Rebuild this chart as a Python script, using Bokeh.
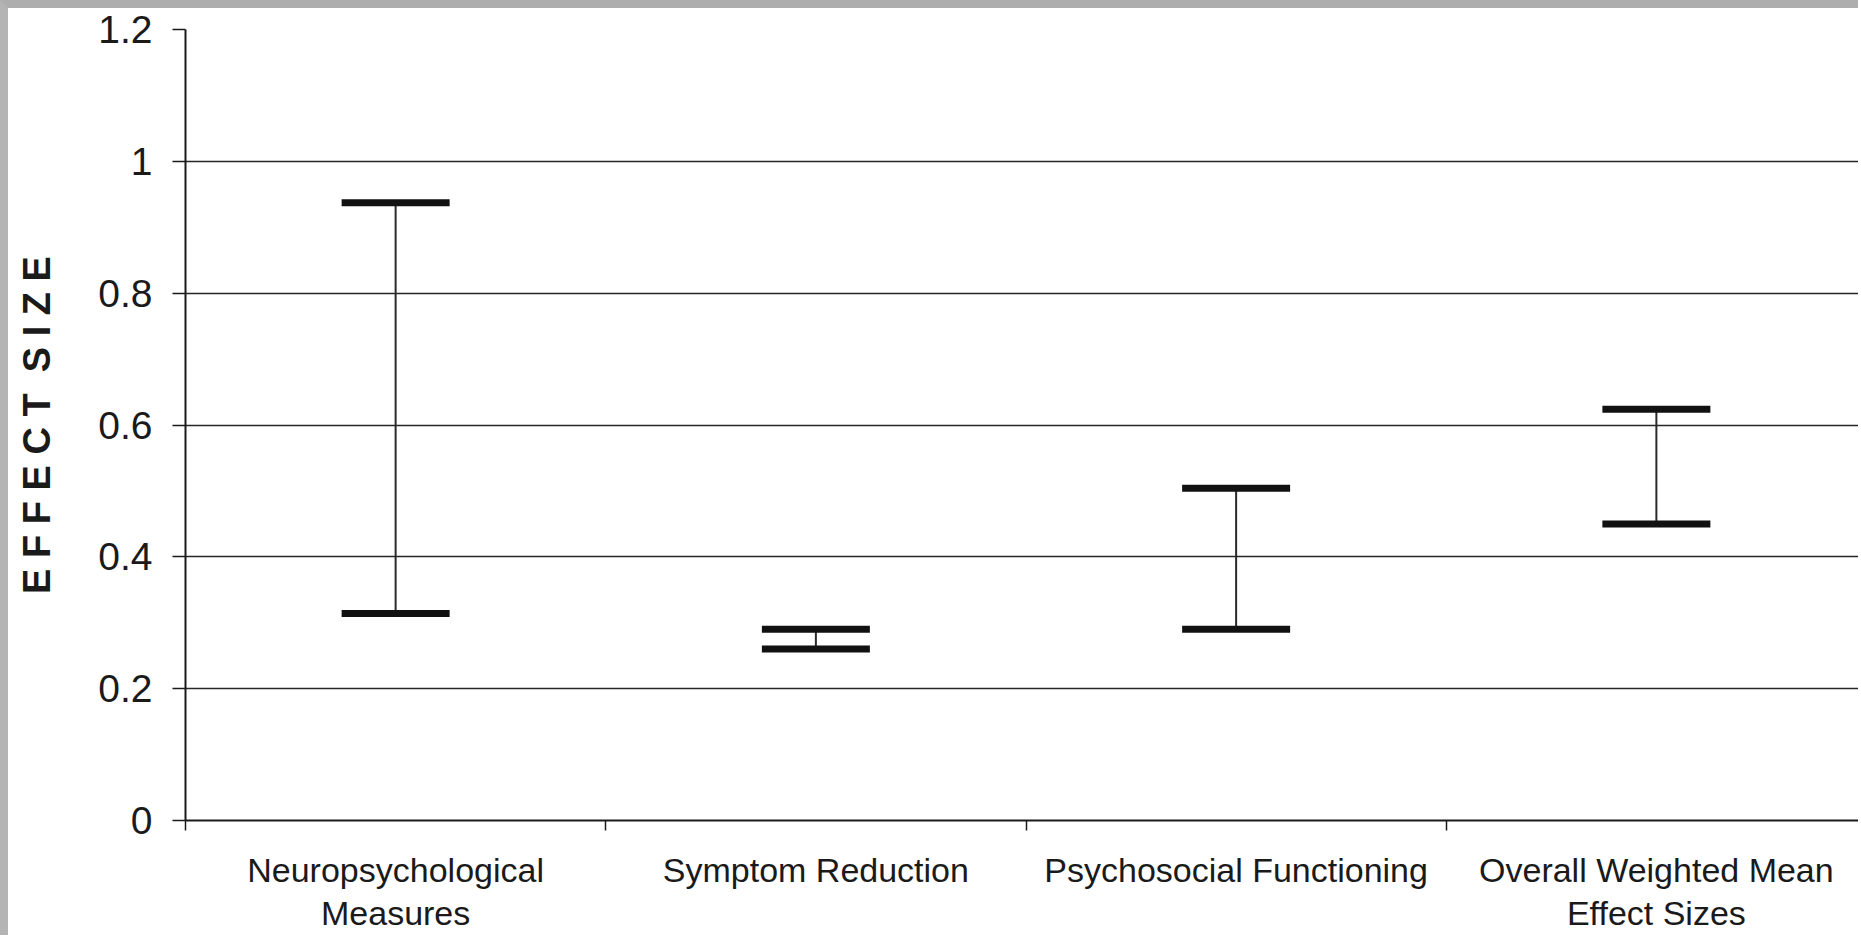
from bokeh.plotting import figure
from bokeh.models import ColumnDataSource, Whisker, TeeHead, FixedTicker, Range1d
from bokeh.embed import file_html
from bokeh.resources import INLINE

# ---- data ----
categories = ["Neuropsychological\nMeasures", "Symptom Reduction",
              "Psychosocial Functioning", "Overall Weighted Mean\nEffect Sizes"]
lower = [0.314, 0.260, 0.290, 0.450]
upper = [0.937, 0.290, 0.504, 0.624]
y_ticks = [0, 0.2, 0.4, 0.6, 0.8, 1.0, 1.2]
y_tick_labels = ["0", "0.2", "0.4", "0.6", "0.8", "1", "1.2"]
y_label = "E F F E C T \u00a0S I Z E"

n = len(categories)
centers = [i + 0.5 for i in range(n)]
boundaries = list(range(n + 1))

FONT = "Liberation Sans"
INK = "#1a1a1a"

p = figure(width=1858, height=935,
           x_range=Range1d(0, n), y_range=Range1d(0, 1.2),
           output_backend="svg", toolbar_location=None,
           min_border_left=177, min_border_right=0,
           min_border_top=21, min_border_bottom=123)
p.styles = {"border-top": "8px solid #adadad", "border-left": "8px solid #b4b4b4"}
p.outline_line_color = None
p.background_fill_color = "white"
p.border_fill_color = "white"

# grid
p.xgrid.visible = False
p.ygrid.grid_line_color = "#262626"
p.ygrid.grid_line_width = 1.6

# y axis
p.yaxis.ticker = FixedTicker(ticks=y_ticks)
p.yaxis.major_label_overrides = {t: s for t, s in zip(y_ticks, y_tick_labels)}
p.yaxis.major_tick_out = 13
p.yaxis.major_tick_in = 0
p.yaxis.minor_tick_line_color = None
p.yaxis.major_tick_line_color = "#1a1a1a"
p.yaxis.major_tick_line_width = 1.5
p.yaxis.axis_line_color = "#1a1a1a"
p.yaxis.axis_line_width = 2
p.yaxis.major_label_text_font = FONT
p.yaxis.major_label_text_font_size = "39px"
p.yaxis.major_label_text_color = INK
p.yaxis.major_label_standoff = 20
p.yaxis.axis_label = y_label
p.yaxis.axis_label_text_font = FONT
p.yaxis.axis_label_text_font_style = "bold"
p.yaxis.axis_label_text_font_size = "38px"
p.yaxis.axis_label_text_color = INK
p.yaxis.axis_label_standoff = 37

# x axis: labels at category centres, small ticks at category boundaries
p.xaxis.ticker = FixedTicker(ticks=centers, minor_ticks=boundaries)
p.xaxis.major_label_overrides = {c: lab for c, lab in zip(centers, categories)}
p.xaxis.major_tick_out = 0
p.xaxis.major_tick_in = 0
p.xaxis.major_tick_line_color = None
p.xaxis.minor_tick_out = 10
p.xaxis.minor_tick_in = 0
p.xaxis.minor_tick_line_color = "#1a1a1a"
p.xaxis.minor_tick_line_width = 1.5
p.xaxis.axis_line_color = "#1a1a1a"
p.xaxis.axis_line_width = 2
p.xaxis.major_label_text_font = FONT
p.xaxis.major_label_text_font_size = "34px"
p.xaxis.major_label_text_color = INK
p.xaxis.major_label_text_line_height = 1.15
p.xaxis.major_label_standoff = 20

# error bars (high-low ranges)
src = ColumnDataSource(dict(x=centers, lower=lower, upper=upper))
cap = dict(size=108, line_width=7, line_color="#111111")
w = Whisker(source=src, base="x", lower="lower", upper="upper",
            dimension="height", line_color="#2a2a2a", line_width=2,
            upper_head=TeeHead(**cap), lower_head=TeeHead(**cap))
p.add_layout(w)

open("out.html", "w").write(file_html(p, INLINE))
